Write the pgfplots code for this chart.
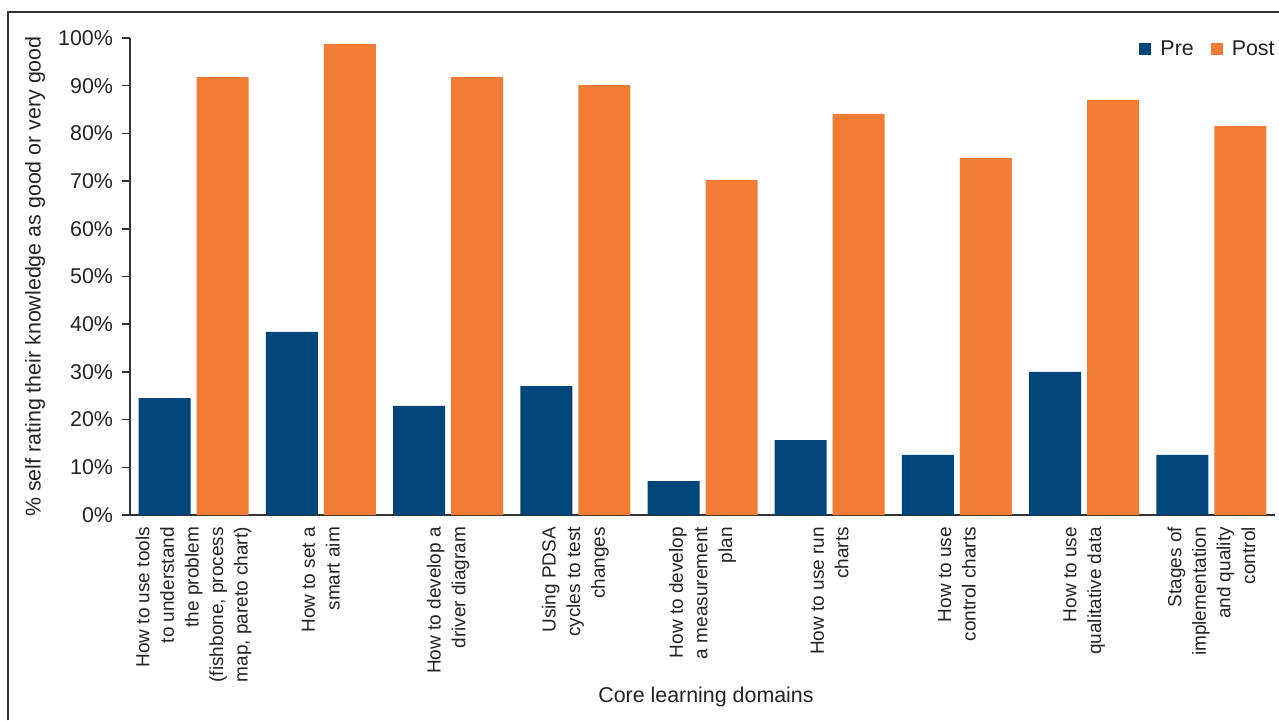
\documentclass[border=0pt]{standalone}
\usepackage{pgfplots}
\pgfplotsset{compat=1.18}
\usepackage{fontspec}
\setmainfont{Liberation Sans}
\definecolor{preblue}{RGB}{0,70,122}
\definecolor{postorange}{RGB}{242,123,54}
\definecolor{txt}{RGB}{35,35,35}
\definecolor{axisgray}{RGB}{50,50,50}
\begin{document}
\begin{tikzpicture}
\useasboundingbox (0,0) rectangle (639.5pt,360pt);
\draw[axisgray, line width=1pt] (4pt,0) -- (4pt,354pt) -- (639.5pt,354pt);
\begin{axis}[
  at={(65pt,102.5pt)}, anchor=south west,
  scale only axis, width=572.5pt, height=238.5pt,
  xmin=-0.5, xmax=8.5, ymin=0, ymax=100,
  axis x line*=bottom, axis y line*=left,
  axis line style={axisgray, line width=0.75pt},
  x axis line style={-}, y axis line style={-},
  xtick={0,...,8}, xtick style={draw=none},
  ytick={0,10,...,100},
  yticklabels={0\%,10\%,20\%,30\%,40\%,50\%,60\%,70\%,80\%,90\%,100\%},
  tick align=outside, major tick length=4pt,
  ytick style={axisgray, line width=0.75pt},
  yticklabel style={xshift=-1pt, font=\fontsize{10.7}{12.3}\selectfont, text=txt},
  xticklabels={
    {How to use tools\\to understand\\the problem\\(fishbone, process\\map, pareto chart)},
    {How to set a\\smart aim},
    {How to develop a\\driver diagram},
    {Using PDSA\\cycles to test\\changes},
    {How to develop\\a measurement\\plan},
    {How to use run\\charts},
    {How to use\\control charts},
    {How to use\\qualitative data},
    {Stages of\\implementation\\and quality\\control}},
  xticklabel style={rotate=90, anchor=east, align=right, xshift=1.5pt, font=\fontsize{9.5}{12.3}\selectfont, text=txt},
  xlabel={Core learning domains},
  xlabel style={at={(axis description cs:0.5,0)}, anchor=center, yshift=-91pt, xshift=1.75pt, font=\fontsize{10.7}{12.3}\selectfont, text=txt},
  ylabel={\% self rating their knowledge as good or very good},
  ylabel style={at={(axis description cs:0,0.5)}, anchor=center, yshift=47.5pt, font=\fontsize{10.7}{12.3}\selectfont, text=txt},
  ybar, bar width=26pt,
  legend columns=2,
  legend style={draw=none, fill=none, at={(1,1)}, anchor=north east, yshift=3pt, xshift=5pt,
    font=\fontsize{10.7}{12.3}\selectfont, text=txt,
    /tikz/every odd column/.append style={column sep=2.5pt},
    /tikz/every even column/.append style={column sep=6.5pt}},
  legend image code/.code={\fill[#1] (0pt,-3pt) rectangle (6pt,3pt);},
]
\addplot[fill=preblue, draw=none, bar shift=-14.5pt] coordinates {
 (0,24.5) (1,38.4) (2,22.9) (3,27.0) (4,7.1) (5,15.7) (6,12.6) (7,30.0) (8,12.6)};
\addplot[fill=postorange, draw=none, bar shift=14.5pt] coordinates {
 (0,91.8) (1,98.7) (2,91.8) (3,90.1) (4,70.2) (5,84.1) (6,74.8) (7,87.0) (8,81.6)};
\legend{Pre,Post}
\end{axis}
\end{tikzpicture}
\end{document}
